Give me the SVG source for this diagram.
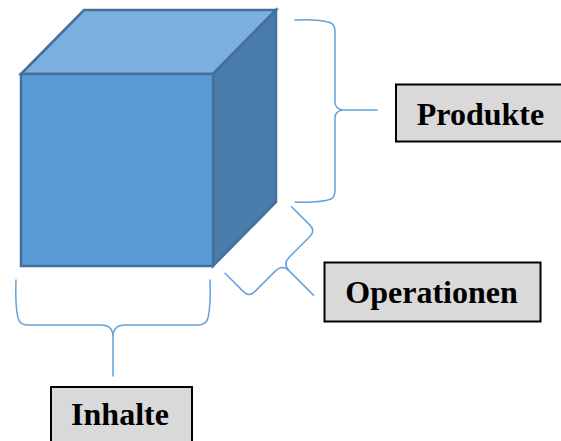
<svg xmlns="http://www.w3.org/2000/svg" width="561" height="441" viewBox="0 0 561 441">
<style>
.face{stroke:#41719C;stroke-width:2.5;stroke-linejoin:miter}
.brace{fill:none;stroke:#64A2DC;stroke-width:1.5;stroke-linecap:round}
.box{fill:#D9D9D9;stroke:#000;stroke-width:2}
.lbl{font-family:"Liberation Serif","Times New Roman",serif;font-weight:bold;font-size:32px;fill:#000;text-anchor:middle}
</style>
<rect width="561" height="441" fill="#fff"/>
<g id="cube">
<polygon class="face" points="21,74 84,10 276,10 213,74" fill="#7CAFDD"/>
<polygon class="face" points="213,74 276,10 276,202 213,266" fill="#497CAA"/>
<rect class="face" x="21" y="74" width="192" height="192" fill="#5B9BD5"/>
</g>
<g id="connectors">
<path class="brace" d="M295 20 Q320 19 331 23 Q335 25 335 32 L335 102 Q335 109 343 110 L377 110 M343 110 Q335 111 335 118 L335 190 Q335 197 331 199 Q320 203 295 202"/>
<path class="brace" d="M16 280 Q15 305 18 318 Q20 325 28 325 L101 325 Q113 325 113 337 L113 376 M113 337 Q113 325 125 325 L198 325 Q206 325 208 318 Q211 305 210 280"/>
<path class="brace" transform="translate(258.3,240) rotate(-45)" d="M-47 0 L-47 26 Q-47 34 -39 34 L-10 34 Q0 34 0 44 L0 78 M0 44 Q0 34 10 34 L39 34 Q47 34 47 26 L47 0"/>
</g>
<g id="produkte">
<rect class="box" x="396" y="84.5" width="170" height="57"/>
<text class="lbl" x="480.5" y="125">Produkte</text>
</g>
<g id="operationen">
<rect class="box" x="324.5" y="262.5" width="216" height="59"/>
<text class="lbl" x="431.5" y="303">Operationen</text>
</g>
<g id="inhalte">
<rect class="box" x="51" y="387" width="141" height="60"/>
<text class="lbl" x="120" y="425">Inhalte</text>
</g>
</svg>
